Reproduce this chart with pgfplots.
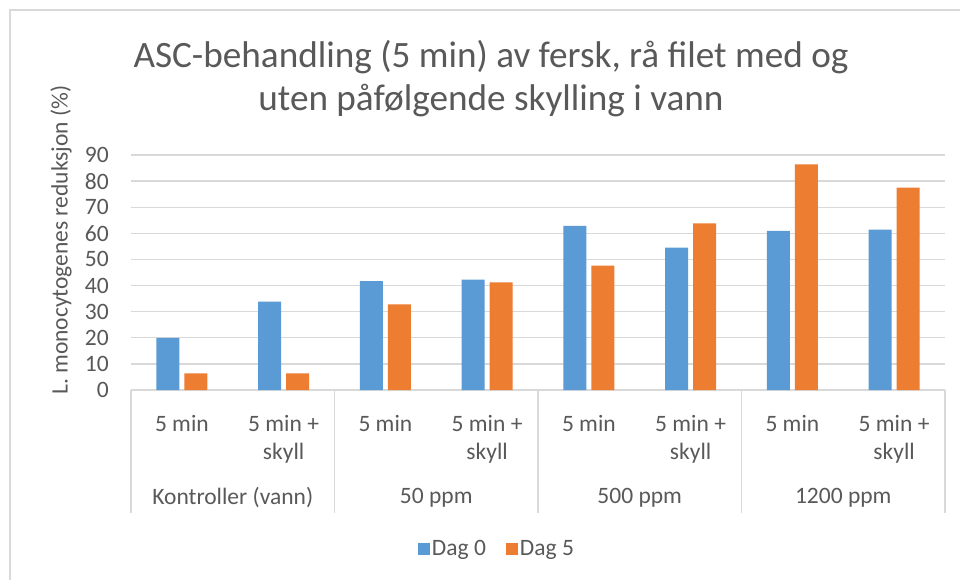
\documentclass[border=0pt]{standalone}
\usepackage{pgfplots}
\pgfplotsset{compat=1.18}
\usepackage{fontspec}
\setmainfont{Carlito}
\definecolor{txt}{HTML}{595959}
\definecolor{grd}{HTML}{D9D9D9}
\definecolor{cblue}{HTML}{5B9BD5}
\definecolor{corange}{HTML}{ED7D31}
\newcommand{\lblfont}{\fontsize{23.5bp}{28bp}\selectfont}
\begin{document}
\begin{tikzpicture}
\useasboundingbox (-131bp,-190bp) rectangle (829bp,390bp);
\fill[white] (-131bp,-190bp) rectangle (829bp,390bp);
\draw[grd, line width=1.5bp] (-121bp,-200bp) -- (-121bp,380bp) -- (840bp,380bp);
\begin{axis}[
  at={(0,0)}, anchor=south west,
  scale only axis, width=814bp, height=235bp,
  xmin=-0.5, xmax=7.5, ymin=0, ymax=90,
  ytick={0,10,...,90},
  xtick={0,...,7},
  xticklabels={{5 min},{5 min +\\skyll},{5 min},{5 min +\\skyll},{5 min},{5 min +\\skyll},{5 min},{5 min +\\skyll}},
  xticklabel style={align=center, anchor=north, inner sep=0pt, yshift=-25bp},
  yticklabel style={anchor=east, inner sep=0pt, xshift=-22bp},
  ymajorgrids, grid style={grd, line width=1.3bp},
  axis line style={draw=none},
  major tick length=0pt,
  tick label style={font=\lblfont, text=txt},
  /pgf/number format/assume math mode=true,
  ylabel={L. monocytogenes reduksjon (\%)},
  ylabel style={at={(axis description cs:-0.086,0.638)}, anchor=center, font=\lblfont, text=txt},
  ybar=5bp, bar width=23bp,
  clip=false,
  legend style={at={(axis description cs:0.4496,-0.677)}, anchor=center, draw=none, fill=none,
    font=\lblfont, text=txt, legend columns=2,
    /tikz/every even column/.append style={column sep=18bp}},
  legend image code/.code={\fill[#1,draw=none] (0bp,-6bp) rectangle (12bp,6bp);},
]
\addplot[fill=cblue, draw=none] coordinates {(0,20.0) (1,33.8) (2,41.7) (3,42.3) (4,62.9) (5,54.5) (6,60.9) (7,61.4)};
\addplot[fill=corange, draw=none] coordinates {(0,6.4) (1,6.4) (2,32.8) (3,41.2) (4,47.6) (5,63.8) (6,86.4) (7,77.5)};
\legend{Dag 0, Dag 5}
\foreach \xx in {-0.5,1.5,3.5,5.5,7.5} {
  \edef\tmp{\noexpand\draw[grd, line width=1.3bp] (axis cs:\xx,0) -- ([yshift=-123bp]axis cs:\xx,0);}\tmp
}
\node[font=\lblfont, text=txt] at ([yshift=-108bp]axis cs:0.5,0) {Kontroller (vann)};
\node[font=\lblfont, text=txt] at ([yshift=-108bp]axis cs:2.5,0) {50 ppm};
\node[font=\lblfont, text=txt] at ([yshift=-108bp]axis cs:4.5,0) {500 ppm};
\node[font=\lblfont, text=txt] at ([yshift=-108bp]axis cs:6.5,0) {1200 ppm};
\end{axis}
\node[font=\fontsize{37.2bp}{43bp}\selectfont, text=txt, anchor=base] at (360bp,322bp) {ASC-behandling (5 min) av fersk, rå filet med og};
\node[font=\fontsize{37.2bp}{43bp}\selectfont, text=txt, anchor=base] at (360bp,279bp) {uten påfølgende skylling i vann};
\end{tikzpicture}
\end{document}
